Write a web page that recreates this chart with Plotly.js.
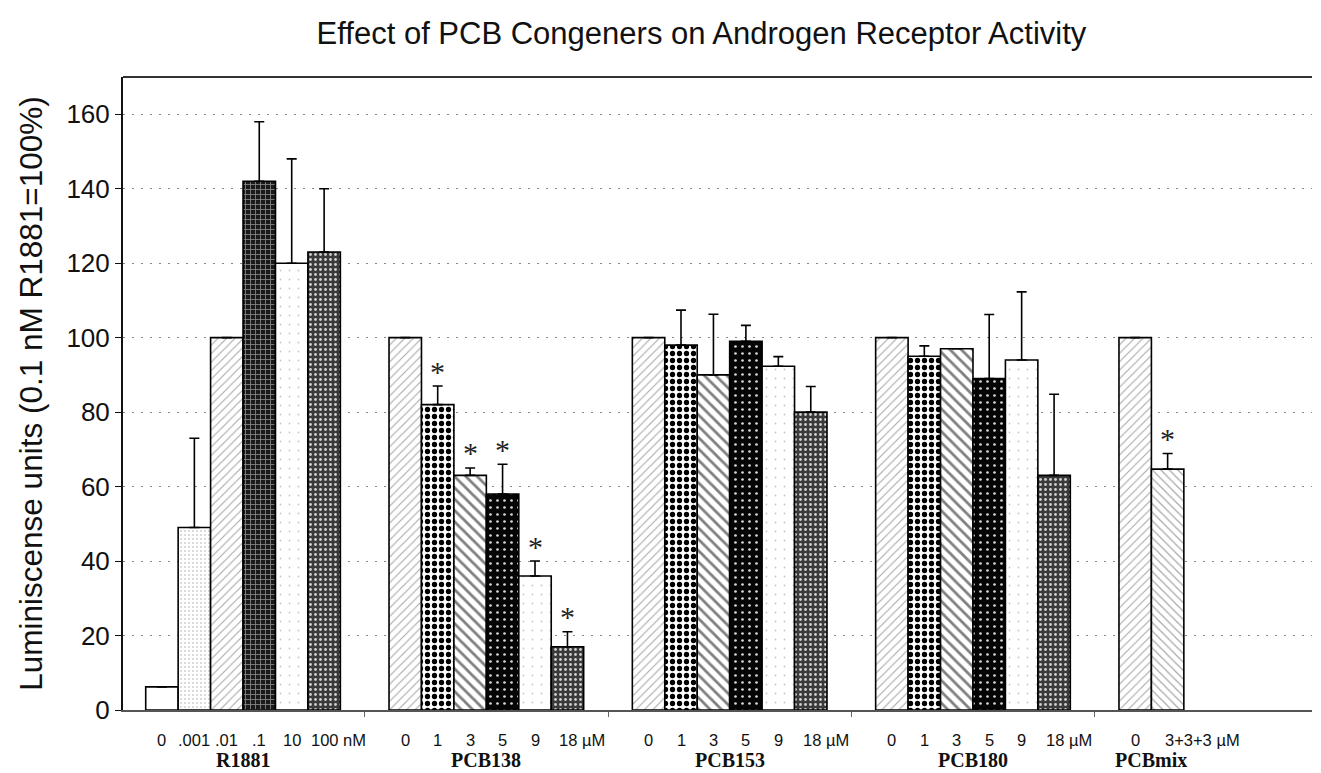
<!DOCTYPE html>
<html>
<head>
<meta charset="utf-8">
<script src="https://cdn.plot.ly/plotly-3.0.1.min.js"></script>
<style>
  html, body { margin: 0; padding: 0; background: #fff; }
  #chart { width: 1321px; height: 773px; }
</style>
</head>
<body>
<div id="chart"></div>
<script>
// ---------------- data ----------------
const groups = ['R1881', 'PCB138', 'PCB153', 'PCB180', 'PCBmix'];
const units = ['nM', 'µM', 'µM', 'µM', 'µM'];
const r1881Doses = ['0', '.001', '.01', '.1', '10', '100'];
const pcb138Doses = ['0', '1', '3', '5', '9', '18'];
const pcb153Doses = ['0', '1', '3', '5', '9', '18'];
const pcb180Doses = ['0', '1', '3', '5', '9', '18'];
const pcbmixDoses = ['0', '3+3+3'];

const r1881Mean = [6.2, 49, 100, 142, 120, 123];
const pcb138Mean = [100, 82, 63, 58, 36, 17];
const pcb153Mean = [100, 98, 90, 99, 92.3, 80];
const pcb180Mean = [100, 95, 97, 89, 94, 63];
const pcbmixMean = [100, 64.7];

const r1881Err = [0, 24, 0, 16, 28, 17];
const pcb138Err = [0, 5, 2, 8, 4, 4];
const pcb153Err = [0, 9.4, 16.3, 4.3, 2.6, 6.9];
const pcb180Err = [0, 2.8, 0, 17.2, 18.3, 21.8];
const pcbmixErr = [0, 4.2];

const r1881Sig = [0, 0, 0, 0, 0, 0];
const pcb138Sig = [0, 1, 1, 1, 1, 1];
const pcb153Sig = [0, 0, 0, 0, 0, 0];
const pcb180Sig = [0, 0, 0, 0, 0, 0];
const pcbmixSig = [0, 1];

const yTicks = [0, 20, 40, 60, 80, 100, 120, 140, 160];

// ---------------- styles ----------------
const r1881Fill = ['blank', 'stipple', 'hatchLight', 'crossDark', 'stippleFaint', 'dotsDark'];
const pcbFill = ['hatchLight', 'checker', 'hatchBack', 'dotsBlack', 'stippleFaint', 'dotsDark'];
const mixFill = ['hatchLight', 'hatchBackLight'];

const FILLS = {
  blank:        {shape: '',   fg: '#000', bg: '#ffffff', size: 8, sol: 0.1},
  stipple:      {shape: '.',  fg: '#9a9a9a', bg: '#ffffff', size: 4, sol: 0.08},
  stippleFaint: {shape: '.',  fg: '#c8c8c8', bg: '#ffffff', size: 9, sol: 0.03},
  hatchLight:   {shape: '/',  fg: '#a8a8a8', bg: '#ffffff', size: 6, sol: 0.18},
  hatchBack:    {shape: '\\', fg: '#808080', bg: '#ffffff', size: 8, sol: 0.35},
  hatchBackLight:{shape: '\\', fg: '#a8a8a8', bg: '#ffffff', size: 6, sol: 0.2},
  checker:      {shape: '.',  fg: '#000000', bg: '#ffffff', size: 7, sol: 0.45},
  dotsBlack:    {shape: '.',  fg: '#d8d8d8', bg: '#050505', size: 7, sol: 0.12},
  dotsDark:     {shape: '.',  fg: '#d0d0d0', bg: '#3a3a3a', size: 5, sol: 0.25},
  crossDark:    {shape: '+',  fg: '#8a8a8a', bg: '#1a1a1a', size: 5, sol: 0.3}
};

const doses = [r1881Doses, pcb138Doses, pcb153Doses, pcb180Doses, pcbmixDoses];
const means = [r1881Mean, pcb138Mean, pcb153Mean, pcb180Mean, pcbmixMean];
const errs = [r1881Err, pcb138Err, pcb153Err, pcb180Err, pcbmixErr];
const sigs = [r1881Sig, pcb138Sig, pcb153Sig, pcb180Sig, pcbmixSig];
const fills = [r1881Fill, pcbFill, pcbFill, pcbFill, mixFill];

const GROUP_STEP = 7.5;   // bar widths from one group start to the next
const LABEL_FONT = 16.5;
const SANS = 'Liberation Sans, Arial, Helvetica, sans-serif';
const SERIF = 'Liberation Serif, Times New Roman, serif';

const xs = [], ys = [], es = [], zeros = [];
const pShape = [], pFg = [], pBg = [], pSize = [], pSol = [];
const annotations = [];
const sepTicks = [];

groups.forEach((g, gi) => {
  const n = means[gi].length;
  means[gi].forEach((v, i) => {
    const x = gi * GROUP_STEP + i;
    xs.push(x); ys.push(v); es.push(errs[gi][i]); zeros.push(0);
    const f = FILLS[fills[gi][i]];
    pShape.push(f.shape); pFg.push(f.fg); pBg.push(f.bg); pSize.push(f.size); pSol.push(f.sol);

    const last = i === n - 1;
    const lab = doses[gi][i];
    if (!last) {
      annotations.push({x: x, xref: 'x', y: 0, yref: 'paper', yanchor: 'top', xanchor: 'center',
        yshift: -20, text: lab, showarrow: false, borderpad: 0,
        font: {family: SANS, size: LABEL_FONT, color: '#111'}});
    } else {
      const half = lab.indexOf('+') >= 0 ? 4 : lab.length * 0.556 * LABEL_FONT / 2;
      annotations.push({x: x, xref: 'x', y: 0, yref: 'paper', yanchor: 'top', xanchor: 'left',
        xshift: -half, yshift: -20, text: lab + ' ' + units[gi], showarrow: false, borderpad: 0,
        font: {family: SANS, size: LABEL_FONT, color: '#111'}});
    }
    if (sigs[gi][i]) {
      annotations.push({x: x, xref: 'x', y: v + errs[gi][i], yref: 'y', yanchor: 'middle',
        xanchor: 'center', yshift: 15, text: '*', showarrow: false,
        font: {family: SERIF, size: 30, color: '#222'}});
    }
  });
  annotations.push({x: gi * GROUP_STEP + (n - 1) / 2, xref: 'x', y: 0, yref: 'paper',
    yanchor: 'top', xanchor: 'center', yshift: -38, text: '<b>' + g + '</b>', showarrow: false,
    borderpad: 0, font: {family: SERIF, size: 20, color: '#111'}});
  if (gi < groups.length - 1) sepTicks.push(gi * GROUP_STEP + 6.25);
});

const trace = {
  type: 'bar',
  x: xs,
  y: ys,
  width: 1,
  marker: {
    color: '#ffffff',
    line: {color: '#000', width: 1.6},
    pattern: {shape: pShape, fgcolor: pFg, bgcolor: pBg, size: pSize, solidity: pSol, fillmode: 'replace'}
  },
  error_y: {type: 'data', symmetric: false, array: es, arrayminus: zeros,
            color: '#000', thickness: 1.6, width: 5},
  hoverinfo: 'y'
};

const layout = {
  width: 1321, height: 773,
  paper_bgcolor: '#fff', plot_bgcolor: '#fff',
  margin: {l: 123, r: 9, t: 77, b: 63},
  showlegend: false,
  title: {text: 'Effect of PCB Congeners on Androgen Receptor Activity',
          font: {family: SANS, size: 31, color: '#111'},
          x: 0.531, xref: 'container', xanchor: 'center', y: 0.957, yref: 'container', yanchor: 'middle'},
  xaxis: {
    range: [-1.2, 35.45], showgrid: false, zeroline: false,
    showline: true, linecolor: '#555', linewidth: 2,
    tickmode: 'array', tickvals: sepTicks, ticktext: sepTicks.map(() => ''),
    ticks: 'outside', ticklen: 5, tickcolor: '#666', tickwidth: 1,
    fixedrange: true
  },
  yaxis: {
    range: [0, 170], tickmode: 'array', tickvals: yTicks,
    showgrid: true, gridcolor: '#888', gridwidth: 1, griddash: '2px,7px',
    zeroline: false, showline: true, linecolor: '#111', linewidth: 2,
    ticks: 'outside', ticklen: 6, tickcolor: '#111',
    tickfont: {family: SANS, size: 26, color: '#111'},
    title: {text: 'Luminiscense units (0.1 nM R1881=100%)', standoff: 14,
            font: {family: SANS, size: 31.5, color: '#111'}},
    automargin: false, fixedrange: true
  },
  shapes: [
    {type: 'line', xref: 'paper', yref: 'paper', x0: 0, x1: 1, y0: 1, y1: 1,
     line: {color: '#333', width: 2}}
  ],
  annotations: annotations
};

Plotly.newPlot('chart', [trace], layout, {displayModeBar: false, staticPlot: true});
</script>
</body>
</html>
